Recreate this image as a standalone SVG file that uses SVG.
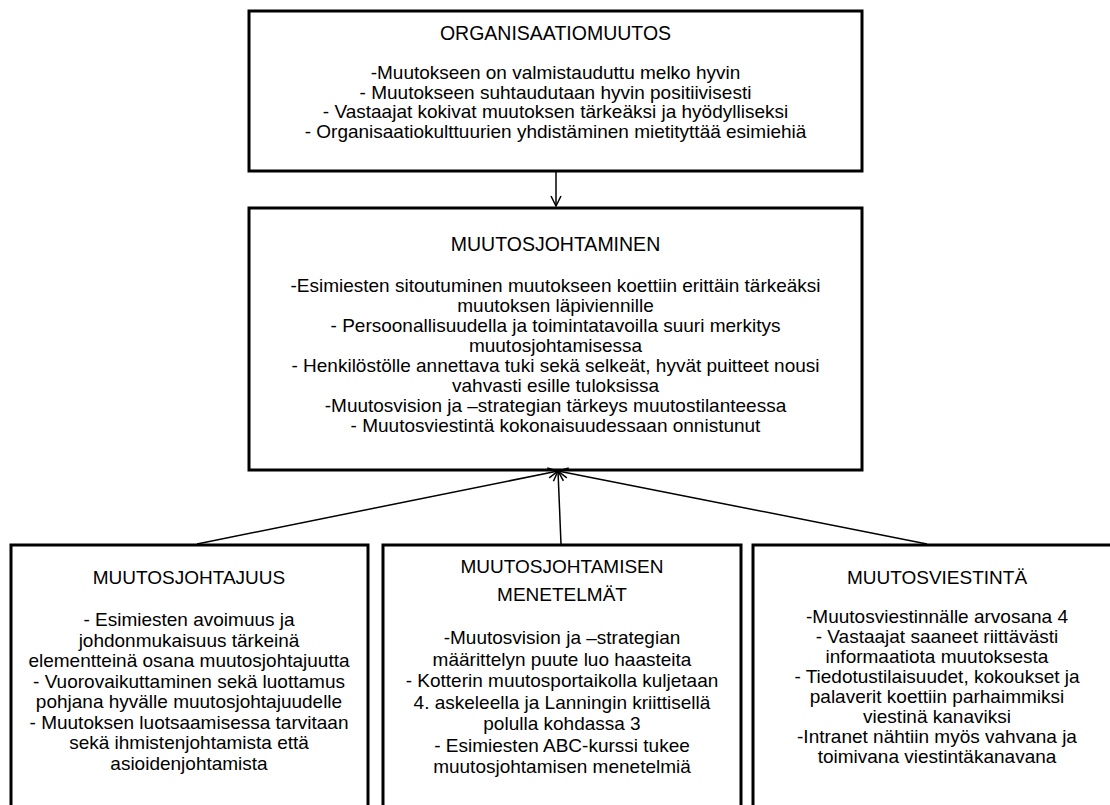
<svg xmlns="http://www.w3.org/2000/svg" width="1110" height="805" viewBox="0 0 1110 805">
<defs>
<style>
.box{fill:#fff;stroke:#000;stroke-width:3}
.t{font-family:"Liberation Sans",Arial,sans-serif;fill:#000;text-anchor:middle;font-size:19px}
.h{font-size:19.5px}
.c{fill:none;stroke:#000;stroke-width:1.5}
</style>
<marker id="arr" viewBox="0 0 12 12" refX="11" refY="6" markerWidth="12" markerHeight="12" markerUnits="userSpaceOnUse" orient="auto">
<path d="M1,1 L11,6 L1,11" fill="none" stroke="#000" stroke-width="1.5"/>
</marker>
</defs>
<rect width="1110" height="805" fill="#fff"/>
<g id="n-organisaatiomuutos">
<rect class="box" x="249" y="11" width="613" height="160"/>
<text class="t h" x="555.5" y="40">ORGANISAATIOMUUTOS</text>
<text class="t" x="555.5" y="79">-Muutokseen on valmistauduttu melko hyvin</text>
<text class="t" x="555.5" y="98.5">- Muutokseen suhtaudutaan hyvin positiivisesti</text>
<text class="t" x="555.5" y="118">- Vastaajat kokivat muutoksen tärkeäksi ja hyödylliseksi</text>
<text class="t" x="555.5" y="137.5">- Organisaatiokulttuurien yhdistäminen mietityttää esimiehiä</text>
</g>
<g id="n-muutosjohtaminen">
<rect class="box" x="249" y="208" width="613" height="262"/>
<text class="t h" x="555.5" y="251">MUUTOSJOHTAMINEN</text>
<text class="t" x="555.5" y="292">-Esimiesten sitoutuminen muutokseen koettiin erittäin tärkeäksi</text>
<text class="t" x="555.5" y="312">muutoksen läpiviennille</text>
<text class="t" x="555.5" y="332">- Persoonallisuudella ja toimintatavoilla suuri merkitys</text>
<text class="t" x="555.5" y="352">muutosjohtamisessa</text>
<text class="t" x="555.5" y="372">- Henkilöstölle annettava tuki sekä selkeät, hyvät puitteet nousi</text>
<text class="t" x="555.5" y="392">vahvasti esille tuloksissa</text>
<text class="t" x="555.5" y="412">-Muutosvision  ja –strategian tärkeys muutostilanteessa</text>
<text class="t" x="555.5" y="432">- Muutosviestintä kokonaisuudessaan onnistunut</text>
</g>
<g id="n-muutosjohtajuus">
<rect class="box" x="11" y="545" width="357" height="270"/>
<text class="t" x="189" y="584">MUUTOSJOHTAJUUS</text>
<text class="t" x="189" y="626">- Esimiesten avoimuus ja</text>
<text class="t" x="189" y="646.5">johdonmukaisuus tärkeinä</text>
<text class="t" x="189" y="667">elementteinä osana muutosjohtajuutta</text>
<text class="t" x="189" y="687.5">- Vuorovaikuttaminen sekä luottamus</text>
<text class="t" x="189" y="708">pohjana hyvälle muutosjohtajuudelle</text>
<text class="t" x="189" y="728.5">- Muutoksen luotsaamisessa tarvitaan</text>
<text class="t" x="189" y="749">sekä ihmistenjohtamista että</text>
<text class="t" x="189" y="769.5">asioidenjohtamista</text>
</g>
<g id="n-menetelmat">
<rect class="box" x="383" y="545" width="358" height="270"/>
<text class="t" x="562" y="573">MUUTOSJOHTAMISEN</text>
<text class="t" x="562" y="601">MENETELMÄT</text>
<text class="t" x="562" y="644">-Muutosvision  ja –strategian</text>
<text class="t" x="562" y="665.5">määrittelyn puute luo haasteita</text>
<text class="t" x="562" y="687">- Kotterin muutosportaikolla kuljetaan</text>
<text class="t" x="562" y="708.5">4. askeleella ja Lanningin kriittisellä</text>
<text class="t" x="562" y="730">polulla kohdassa 3</text>
<text class="t" x="562" y="751.5">- Esimiesten ABC-kurssi tukee</text>
<text class="t" x="562" y="773">muutosjohtamisen menetelmiä</text>
</g>
<g id="n-muutosviestinta">
<rect class="box" x="753" y="545" width="370" height="270"/>
<text class="t" x="937" y="584">MUUTOSVIESTINTÄ</text>
<text class="t" x="937" y="623">-Muutosviestinnälle arvosana 4</text>
<text class="t" x="937" y="643">- Vastaajat saaneet riittävästi</text>
<text class="t" x="937" y="663">informaatiota muutoksesta</text>
<text class="t" x="937" y="683">- Tiedotustilaisuudet, kokoukset ja</text>
<text class="t" x="937" y="703">palaverit koettiin parhaimmiksi</text>
<text class="t" x="937" y="723">viestinä kanaviksi</text>
<text class="t" x="937" y="743">-Intranet nähtiin myös vahvana ja</text>
<text class="t" x="937" y="763">toimivana viestintäkanavana</text>
</g>
<g id="connectors">
<line class="c" x1="556" y1="172" x2="556" y2="206" marker-end="url(#arr)"/>
<line class="c" x1="197" y1="544" x2="558" y2="471" marker-end="url(#arr)"/>
<line class="c" x1="561" y1="544" x2="558" y2="471" marker-end="url(#arr)"/>
<line class="c" x1="927" y1="544" x2="558" y2="471" marker-end="url(#arr)"/>
</g>
</svg>
